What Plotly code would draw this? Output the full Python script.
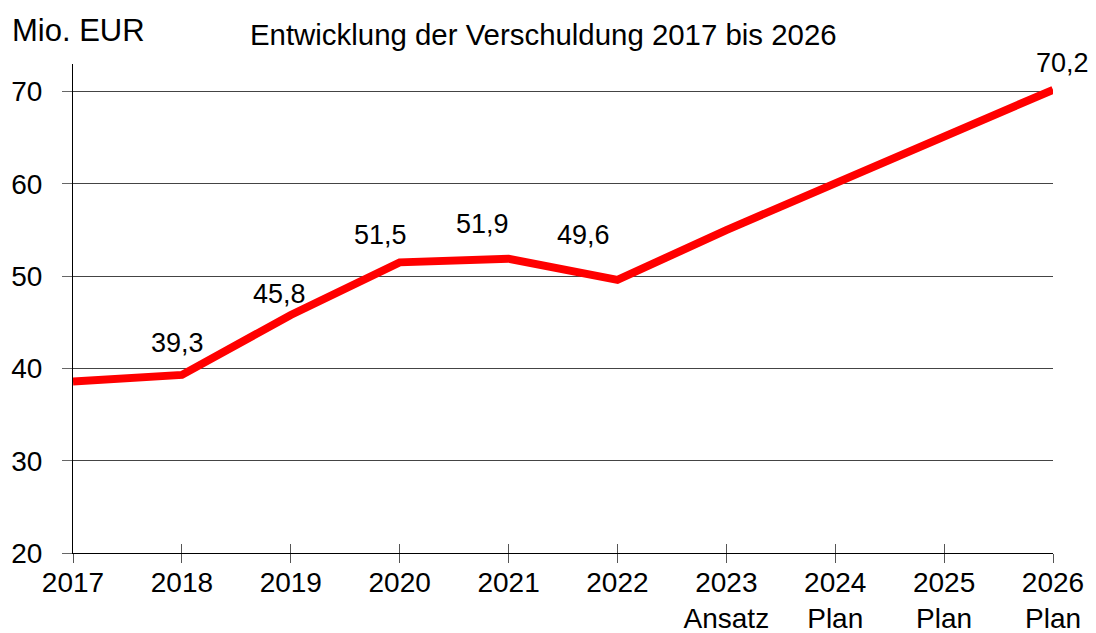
import plotly.graph_objects as go

categories = ["2017", "2018", "2019", "2020", "2021", "2022",
              "2023<br>Ansatz", "2024<br>Plan", "2025<br>Plan", "2026<br>Plan"]
values = [38.6, 39.3, 45.8, 51.5, 51.9, 49.6, 55.0, 60.0, 65.1, 70.2]
label_idx = [1, 2, 3, 4, 5, 9]
label_text = ["39,3", "45,8", "51,5", "51,9", "49,6", "70,2"]
label_xshift = [-4, -11, -19, -26, -34, 9]
label_yshift = [32, 21, 27, 35, 45, 27]
y_ticks = [20, 30, 40, 50, 60, 70]

FONT = "Liberation Sans, Arial, sans-serif"

fig = go.Figure()
fig.add_trace(go.Scatter(
    x=categories, y=values, mode="lines",
    line=dict(color="#ff0000", width=8),
    hoverinfo="skip", showlegend=False,
))
# invisible helper trace so the overlaid axis (inner tick halves) is drawn
fig.add_trace(go.Scatter(
    x=categories, y=values, mode="lines", xaxis="x2",
    line=dict(color="rgba(0,0,0,0)", width=0),
    hoverinfo="skip", showlegend=False,
))

for i, t, dx, dy in zip(label_idx, label_text, label_xshift, label_yshift):
    fig.add_annotation(
        x=i, y=values[i], text=t, showarrow=False,
        xshift=dx, yshift=dy,
        font=dict(family=FONT, size=27, color="#000000"),
    )

fig.add_annotation(
    xref="paper", yref="paper", x=-0.064, y=1.0, yshift=34,
    xanchor="left", yanchor="middle", text="Mio. EUR", showarrow=False,
    font=dict(family=FONT, size=31, color="#000000"),
)
fig.add_annotation(
    xref="paper", yref="paper", x=0.4796, y=1.0, yshift=30,
    xanchor="center", yanchor="middle",
    text="Entwicklung der Verschuldung 2017 bis 2026", showarrow=False,
    font=dict(family=FONT, size=29.4, color="#000000"),
)

# the page body adds an 8px offset; the figure is sized to fill the rest
fig.update_layout(
    width=1088, height=625,
    margin=dict(l=65, r=43, t=56, b=80),
    paper_bgcolor="#ffffff", plot_bgcolor="#ffffff",
    font=dict(family=FONT, size=28, color="#000000"),
    xaxis=dict(
        type="category", range=[0, 9], automargin=False,
        showline=True, linecolor="#000000", linewidth=1,
        ticks="outside", ticklen=9, tickcolor="#555555", tickwidth=1,
        showgrid=False, zeroline=False, ticklabelstandoff=-5,
        tickfont=dict(family=FONT, size=28, color="#000000"),
    ),
    xaxis2=dict(
        type="category", range=[0, 9], overlaying="x", anchor="y", side="bottom",
        matches="x", automargin=False,
        showline=False, ticks="inside", ticklen=9, tickcolor="#555555", tickwidth=1,
        showticklabels=False, showgrid=False, zeroline=False,
    ),
    yaxis=dict(
        range=[20, 73], tickvals=y_ticks, automargin=False,
        showline=True, linecolor="#000000", linewidth=1,
        ticks="outside", ticklen=10, tickcolor="#666666", tickwidth=1,
        showgrid=True, gridcolor="#444444", gridwidth=1,
        zeroline=False, ticklabelstandoff=14,
        tickfont=dict(family=FONT, size=28, color="#000000"),
    ),
)

fig.write_html("out.html")
